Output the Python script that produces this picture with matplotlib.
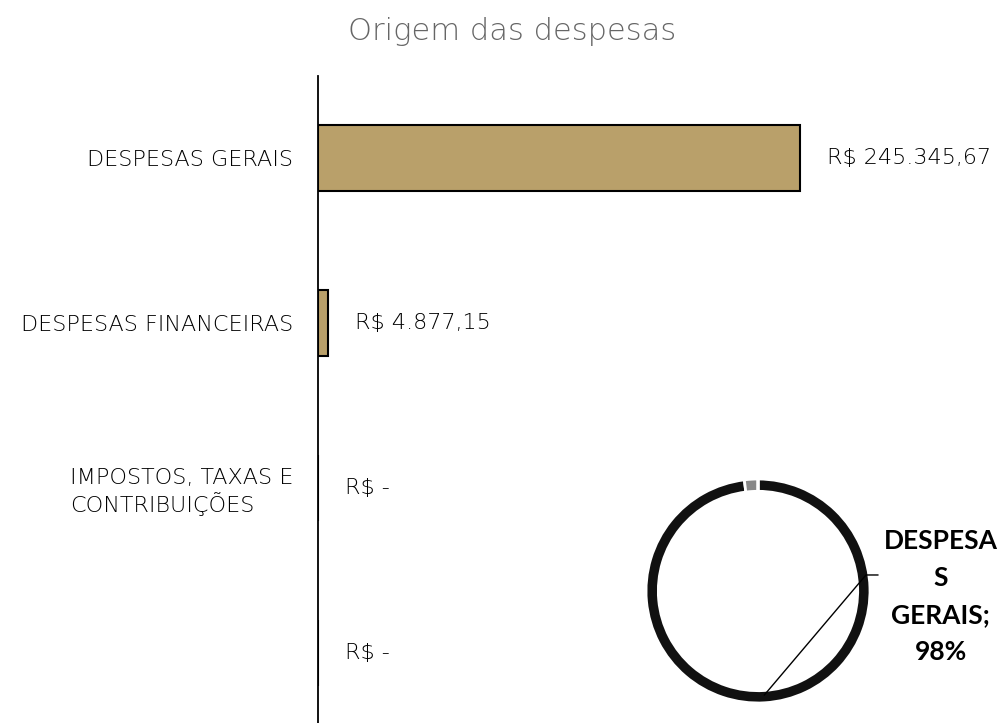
import numpy as np
import matplotlib
matplotlib.use('Agg')
import matplotlib.pyplot as plt

categorias = ['DESPESAS GERAIS', 'DESPESAS FINANCEIRAS',
              'IMPOSTOS, TAXAS E\nCONTRIBUIÇÕES', '']
valores = [245345.67, 4877.15, 0.0, 0.0]
rotulo_pizza = 'DESPESA\nS\nGERAIS;\n98%'

COR_BARRA = '#B9A06A'
COR_TEXTO = '#000000'
FONTE = 'DejaVu Sans'
PESO = 'ultralight'


def reais(v):
    if v == 0:
        return 'R$ -'
    s = '{:,.2f}'.format(v)
    s = s.replace(',', 'X').replace('.', ',').replace('X', '.')
    return 'R$ ' + s


W, H = 1005, 723
fig = plt.figure(figsize=(W / 100, H / 100), dpi=100)

fig.text(512 / W, 1 - 32 / H, 'Origem das despesas', ha='center', va='center',
         fontsize=22, color='#666666', family=FONTE, weight=PESO)

# barras
ax = fig.add_axes([318 / W, (H - 735.5) / H, 589 / W, 660 / H])
y = np.arange(len(categorias))
ax.barh(y, valores, height=0.4, color=COR_BARRA, edgecolor='black', linewidth=1.5)
ax.set_ylim(len(categorias) - 0.5, -0.5)
ax.set_xlim(0, 300000)
ax.set_yticks(y)
ax.set_yticklabels(categorias, fontsize=16, color=COR_TEXTO, family=FONTE,
                   weight=PESO, multialignment='left')
ax.tick_params(axis='y', length=0, pad=18)
ax.set_xticks([])
for s in ['top', 'right', 'bottom']:
    ax.spines[s].set_visible(False)
ax.spines['left'].set_linewidth(1.3)
for yi, v in zip(y, valores):
    ax.annotate(reais(v), (v, yi), xytext=(19.5, 0), textcoords='offset points',
                ha='left', va='center', fontsize=16, color=COR_TEXTO,
                family=FONTE, weight=PESO)

# rosca
cx, cy, r = 758, 591, 112
axp = fig.add_axes([(cx - r) / W, (H - cy - r) / H, 2 * r / W, 2 * r / H])
cores = ['#111111', '#888888', '#bbbbbb', '#dddddd']
axp.pie(valores, colors=cores, startangle=90, counterclock=False, radius=1.0,
        wedgeprops=dict(width=0.11, edgecolor='white', linewidth=2))
axp.set_xlim(-1, 1)
axp.set_ylim(-1, 1)
axp.set_aspect('auto')

frac = valores[0] / sum(valores)
ang = np.deg2rad(90 - frac * 360 / 2)
px, py = 0.93 * np.cos(ang), 0.93 * np.sin(ang)
axp.plot([px, 0.964, 1.07], [py, 0.143, 0.143], color='black', lw=1,
         clip_on=False)
axp.text(1.63, -0.05, rotulo_pizza, ha='center', va='center', fontsize=19,
         weight='bold', family='Lato', color='black', linespacing=1.65)

fig.savefig('out.png', dpi=100)
